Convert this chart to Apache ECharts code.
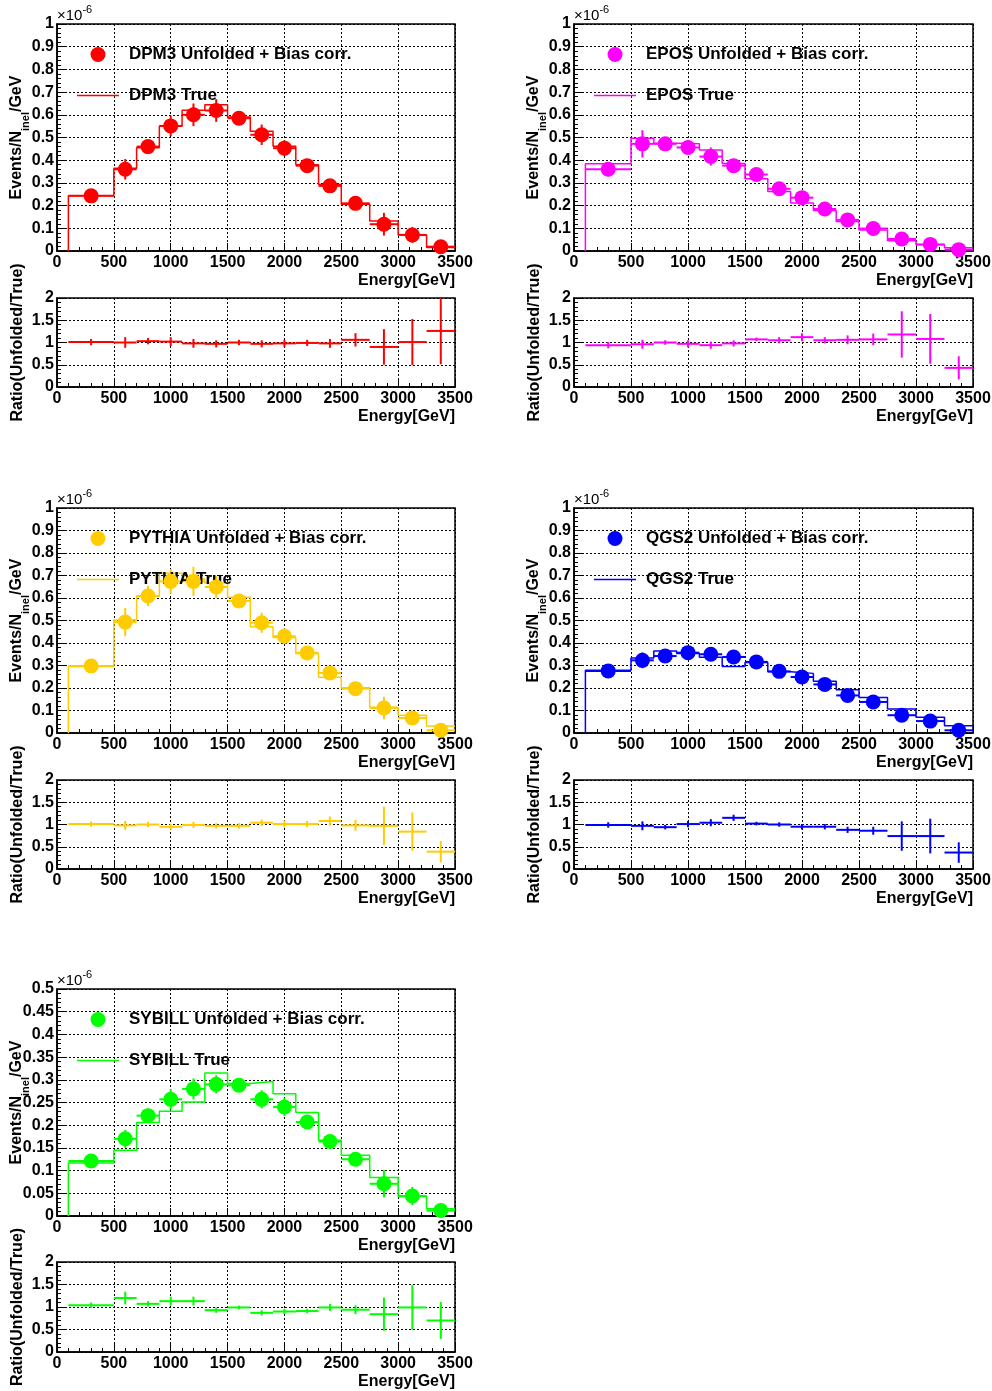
<!DOCTYPE html>
<html>
<head>
<meta charset="utf-8">
<script src="https://cdn.jsdelivr.net/npm/echarts@6/dist/echarts.min.js"></script>
<style>
html,body{margin:0;padding:0;background:#fff;}
#c{width:992px;height:1391px;}
</style>
</head>
<body>
<div id="c"></div>
<script>
// ---------------- DATA ----------------
const binEdges = [100, 500, 700, 900, 1100, 1300, 1500, 1700, 1900, 2100, 2300, 2500, 2750, 3000, 3250, 3500];
const binCenters = [300, 600, 800, 1000, 1200, 1400, 1600, 1800, 2000, 2200, 2400, 2625, 2875, 3125, 3375];
const xTicks = [0, 500, 1000, 1500, 2000, 2500, 3000, 3500];

const modelNames = ['DPM3', 'EPOS', 'PYTHIA', 'QGS2', 'SYBILL'];
const modelColors = ['#ff0000', '#ff00ff', '#ffcc00', '#0000ff', '#00ff00'];

const dpm3Unfolded = [0.243, 0.360, 0.460, 0.551, 0.600, 0.619, 0.585, 0.512, 0.453, 0.376, 0.287, 0.210, 0.118, 0.071, 0.019];
const dpm3UnfoldedErr = [0.015, 0.045, 0.030, 0.045, 0.050, 0.050, 0.030, 0.045, 0.035, 0.030, 0.030, 0.030, 0.050, 0.035, 0.012];
const dpm3True = [0.243, 0.365, 0.455, 0.550, 0.620, 0.644, 0.590, 0.528, 0.462, 0.380, 0.293, 0.206, 0.132, 0.071, 0.015];
const dpm3Ratio = [1.01, 1.00, 1.03, 1.02, 0.98, 0.97, 1.00, 0.97, 0.98, 0.99, 0.98, 1.06, 0.90, 1.01, 1.26];
const dpm3RatioErr = [0.07, 0.12, 0.07, 0.10, 0.10, 0.08, 0.06, 0.08, 0.08, 0.07, 0.10, 0.15, 0.40, 0.52, 0.75];

const eposUnfolded = [0.360, 0.472, 0.472, 0.456, 0.416, 0.376, 0.337, 0.274, 0.235, 0.185, 0.137, 0.099, 0.053, 0.029, 0.006];
const eposUnfoldedErr = [0.020, 0.060, 0.030, 0.030, 0.040, 0.030, 0.020, 0.020, 0.030, 0.020, 0.020, 0.020, 0.020, 0.015, 0.005];
const eposTrue = [0.384, 0.497, 0.475, 0.472, 0.445, 0.385, 0.318, 0.262, 0.212, 0.178, 0.130, 0.093, 0.045, 0.027, 0.014];
const eposRatio = [0.94, 0.96, 1.00, 0.97, 0.94, 0.98, 1.07, 1.05, 1.12, 1.05, 1.06, 1.07, 1.18, 1.08, 0.43];
const eposRatioErr = [0.07, 0.10, 0.05, 0.08, 0.08, 0.07, 0.04, 0.07, 0.09, 0.07, 0.10, 0.13, 0.52, 0.56, 0.26];

const pythiaUnfolded = [0.298, 0.493, 0.609, 0.674, 0.674, 0.649, 0.587, 0.490, 0.430, 0.356, 0.267, 0.197, 0.111, 0.067, 0.012];
const pythiaUnfoldedErr = [0.015, 0.063, 0.045, 0.055, 0.065, 0.050, 0.030, 0.045, 0.035, 0.030, 0.030, 0.025, 0.050, 0.030, 0.015];
const pythiaTrue = [0.296, 0.502, 0.608, 0.710, 0.685, 0.667, 0.603, 0.472, 0.425, 0.353, 0.248, 0.201, 0.115, 0.079, 0.031];
const pythiaRatio = [1.01, 0.98, 1.00, 0.95, 0.99, 0.97, 0.97, 1.04, 1.01, 1.01, 1.08, 0.98, 0.97, 0.84, 0.39];
const pythiaRatioErr = [0.06, 0.10, 0.06, 0.07, 0.07, 0.06, 0.06, 0.07, 0.08, 0.07, 0.10, 0.12, 0.43, 0.43, 0.24];

const qgs2Unfolded = [0.276, 0.323, 0.342, 0.357, 0.350, 0.338, 0.316, 0.274, 0.249, 0.216, 0.167, 0.138, 0.079, 0.053, 0.012];
const qgs2UnfoldedErr = [0.015, 0.035, 0.020, 0.025, 0.025, 0.025, 0.015, 0.015, 0.015, 0.015, 0.012, 0.012, 0.025, 0.020, 0.008];
const qgs2True = [0.279, 0.333, 0.364, 0.353, 0.337, 0.296, 0.313, 0.272, 0.265, 0.230, 0.192, 0.158, 0.107, 0.070, 0.032];
const qgs2Ratio = [0.99, 0.97, 0.94, 1.01, 1.04, 1.15, 1.02, 1.00, 0.95, 0.95, 0.88, 0.86, 0.74, 0.74, 0.37];
const qgs2RatioErr = [0.06, 0.10, 0.05, 0.07, 0.08, 0.07, 0.04, 0.05, 0.06, 0.06, 0.07, 0.09, 0.33, 0.39, 0.23];

const sybillUnfolded = [0.121, 0.170, 0.221, 0.257, 0.280, 0.290, 0.288, 0.257, 0.240, 0.207, 0.164, 0.125, 0.071, 0.044, 0.012];
const sybillUnfoldedErr = [0.008, 0.020, 0.015, 0.022, 0.023, 0.020, 0.012, 0.020, 0.020, 0.012, 0.012, 0.012, 0.030, 0.020, 0.008];
const sybillTrue = [0.117, 0.145, 0.206, 0.231, 0.251, 0.315, 0.292, 0.296, 0.269, 0.228, 0.167, 0.134, 0.085, 0.043, 0.016];
const sybillRatio = [1.04, 1.20, 1.07, 1.13, 1.13, 0.93, 0.99, 0.87, 0.90, 0.91, 0.99, 0.94, 0.84, 0.99, 0.70];
const sybillRatioErr = [0.06, 0.14, 0.06, 0.10, 0.10, 0.06, 0.04, 0.06, 0.06, 0.05, 0.08, 0.10, 0.37, 0.50, 0.41];

const mainYMax = [1, 1, 1, 1, 0.5];
const mainYInterval = [0.1, 0.1, 0.1, 0.1, 0.05];
const ratioYMax = 2;
const ratioYInterval = 0.5;

// ---------------- LAYOUT ----------------
const FONT = '"Liberation Sans", Arial, Helvetica, sans-serif';
const colLeft = [57, 574];
const colWidth = [398, 399];
const mainTop = [24, 508, 989];
const mainHeight = [227, 225, 227];
const ratioTop = [298, 780, 1262];
const ratioHeight = [89, 89, 90];
const panelPos = [[0, 0], [1, 0], [0, 1], [1, 1], [0, 2]];

const models = [
  {unf: dpm3Unfolded, unfErr: dpm3UnfoldedErr, tru: dpm3True, ratio: dpm3Ratio, ratioErr: dpm3RatioErr},
  {unf: eposUnfolded, unfErr: eposUnfoldedErr, tru: eposTrue, ratio: eposRatio, ratioErr: eposRatioErr},
  {unf: pythiaUnfolded, unfErr: pythiaUnfoldedErr, tru: pythiaTrue, ratio: pythiaRatio, ratioErr: pythiaRatioErr},
  {unf: qgs2Unfolded, unfErr: qgs2UnfoldedErr, tru: qgs2True, ratio: qgs2Ratio, ratioErr: qgs2RatioErr},
  {unf: sybillUnfolded, unfErr: sybillUnfoldedErr, tru: sybillTrue, ratio: sybillRatio, ratioErr: sybillRatioErr}
];

function stepData(edges, vals) {
  const d = [[edges[0], 0]];
  for (let i = 0; i < vals.length; i++) d.push([edges[i], vals[i]]);
  d.push([edges[edges.length - 1], vals[vals.length - 1]]);
  return d;
}
function errData(centers, vals, errs, edges) {
  return centers.map((c, i) => [c, vals[i], errs[i], edges[i], edges[i + 1]]);
}
function errRender(color) {
  return function (params, api) {
    const x = api.value(0), y = api.value(1), e = api.value(2), lo = api.value(3), hi = api.value(4);
    const pL = api.coord([lo, y]), pR = api.coord([hi, y]);
    const pT = api.coord([x, y + e]), pB = api.coord([x, Math.max(0, y - e)]);
    const cs = params.coordSys;
    const top = Math.max(pT[1], cs.y);
    return {
      type: 'group',
      children: [
        {type: 'line', shape: {x1: pL[0], y1: pL[1], x2: pR[0], y2: pR[1]}, style: {stroke: color, lineWidth: 2}},
        {type: 'line', shape: {x1: pT[0], y1: top, x2: pB[0], y2: pB[1]}, style: {stroke: color, lineWidth: 2}}
      ]
    };
  };
}
function plainNum(v) { return String(+v.toFixed(4)); }

const grids = [], xAxes = [], yAxes = [], series = [], legends = [], graphics = [];

const axisLabelStyle = {fontSize: 16, fontWeight: 'bold', fontFamily: FONT, color: '#000', formatter: plainNum};

function xAxisDef(gi) {
  return {
    type: 'value', gridIndex: gi, min: xTicks[0], max: xTicks[xTicks.length - 1], interval: 500,
    axisLine: {show: true, onZero: false, lineStyle: {color: '#000', width: 1.5}},
    axisTick: {show: true, inside: true, length: 8, lineStyle: {color: '#000', width: 1}},
    minorTick: {show: true, splitNumber: 5, length: 4, lineStyle: {color: '#000', width: 1}},
    splitLine: {show: true, lineStyle: {color: '#000', width: 1, type: [2, 2]}},
    axisLabel: Object.assign({margin: 4, showMinLabel: true, showMaxLabel: true}, axisLabelStyle),
    name: 'Energy[GeV]', nameLocation: 'end', nameGap: 0, nameMoveOverlap: false,
    nameTextStyle: {fontSize: 16, fontWeight: 'bold', fontFamily: FONT, color: '#000', align: 'right', verticalAlign: 'top', padding: [22, 0, 0, 0]}
  };
}
function yAxisDef(gi, max, interval, name, rich, gap) {
  return {
    type: 'value', gridIndex: gi, min: 0, max: max, interval: interval,
    axisLine: {show: true, onZero: false, lineStyle: {color: '#000', width: 1.5}},
    axisTick: {show: true, inside: true, length: 8, lineStyle: {color: '#000', width: 1}},
    minorTick: {show: true, splitNumber: 5, length: 4, lineStyle: {color: '#000', width: 1}},
    splitLine: {show: true, lineStyle: {color: '#000', width: 1, type: [2, 2]}},
    axisLabel: Object.assign({margin: 3, showMinLabel: true, showMaxLabel: true}, axisLabelStyle),
    name: name, nameLocation: 'middle', nameRotate: 90, nameGap: gap, nameMoveOverlap: false,
    nameTextStyle: {fontSize: 16, fontWeight: 'bold', fontFamily: FONT, color: '#000', rich: rich}
  };
}

const yRich = {
  a: {fontSize: 16, fontWeight: 'bold', fontFamily: FONT, color: '#000', lineHeight: 18},
  s: {fontSize: 11, fontWeight: 'bold', fontFamily: FONT, color: '#000', lineHeight: 12, padding: [12, 0, 0, 0], verticalAlign: 'top'}
};

models.forEach((m, k) => {
  const col = panelPos[k][0], row = panelPos[k][1];
  const color = modelColors[k];
  const name = modelNames[k];
  const gMain = grids.length;
  grids.push({left: colLeft[col], top: mainTop[row], width: colWidth[col], height: mainHeight[row], show: true, borderColor: '#000', borderWidth: 1.5, containLabel: false, outerBoundsMode: 'none'});
  const gRatio = grids.length;
  grids.push({left: colLeft[col], top: ratioTop[row], width: colWidth[col], height: ratioHeight[row], show: true, borderColor: '#000', borderWidth: 1.5, containLabel: false, outerBoundsMode: 'none'});

  xAxes.push(xAxisDef(gMain));
  xAxes.push(xAxisDef(gRatio));
  yAxes.push(yAxisDef(gMain, mainYMax[k], mainYInterval[k], '{a|Events/N}{s|inel}{a|/GeV}', yRich, 31));
  yAxes.push(yAxisDef(gRatio, ratioYMax, ratioYInterval, 'Ratio(Unfolded/True)', null, 31));

  const unfName = name + ' Unfolded + Bias corr.';
  const trueName = name + ' True';

  series.push({
    name: trueName, type: 'line', step: 'end', xAxisIndex: gMain, yAxisIndex: gMain,
    data: stepData(binEdges, m.tru), symbol: 'none', showSymbol: false,
    lineStyle: {color: color, width: 1.5}, itemStyle: {color: color}, z: 2, silent: true
  });
  series.push({
    name: unfName + ' err', type: 'custom', xAxisIndex: gMain, yAxisIndex: gMain,
    data: errData(binCenters, m.unf, m.unfErr, binEdges), encode: {x: 0, y: 1},
    renderItem: errRender(color), z: 3, silent: true
  });
  series.push({
    name: unfName, type: 'scatter', xAxisIndex: gMain, yAxisIndex: gMain,
    data: binCenters.map((c, i) => [c, m.unf[i]]), symbol: 'circle', symbolSize: 15,
    itemStyle: {color: color, opacity: 1}, z: 4, silent: true
  });
  series.push({
    name: name + ' ratio', type: 'custom', xAxisIndex: gRatio, yAxisIndex: gRatio,
    data: errData(binCenters, m.ratio, m.ratioErr, binEdges), encode: {x: 0, y: 1},
    renderItem: errRender(color), z: 3, silent: true
  });

  legends.push({
    left: colLeft[col] + 20, top: mainTop[row] + 22, orient: 'vertical', padding: 0,
    itemWidth: 42, itemHeight: 15, itemGap: 24, selectedMode: false,
    textStyle: {fontSize: 17, fontWeight: 'bold', fontFamily: FONT, color: '#000', lineHeight: 17, padding: [0, 0, 0, 5]},
    data: [{name: unfName, icon: 'circle'}, {name: trueName, icon: 'path://M0,0H42V1.5H0Z'}]
  });

  graphics.push({
    type: 'text', left: colLeft[col], top: mainTop[row] - 22,
    style: {
      text: '{a|\u00d710}{b|-6}',
      rich: {
        a: {fontSize: 15, fontFamily: FONT, fill: '#000', lineHeight: 17, padding: [6, 0, 0, 0]},
        b: {fontSize: 11, fontFamily: FONT, fill: '#000', lineHeight: 12, verticalAlign: 'top'}
      }
    }
  });
});

const chart = echarts.init(document.getElementById('c'), null, {renderer: 'canvas'});
chart.setOption({
  animation: false,
  backgroundColor: '#fff',
  grid: grids,
  xAxis: xAxes,
  yAxis: yAxes,
  legend: legends,
  graphic: graphics,
  series: series
});
</script>
</body>
</html>
